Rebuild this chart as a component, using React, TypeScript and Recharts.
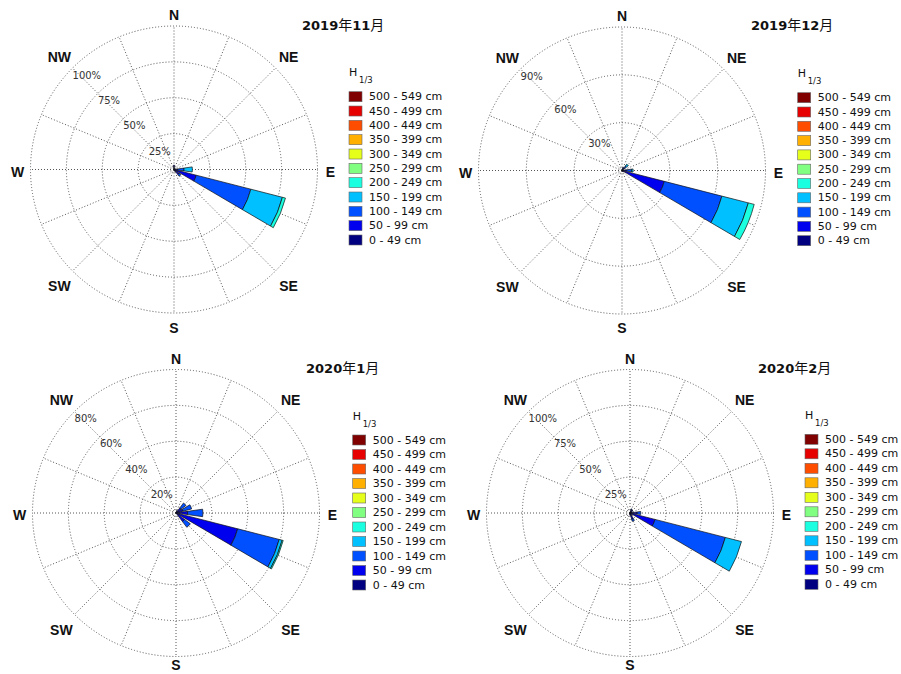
import React from 'react';
import { RadialBarChart, RadialBar, PolarAngleAxis, PolarRadiusAxis, PolarGrid, Cell } from 'recharts';

const DIRECTIONS = ['N', 'NNE', 'NE', 'ENE', 'E', 'ESE', 'SE', 'SSE', 'S', 'SSW', 'SW', 'WSW', 'W', 'WNW', 'NW', 'NNW'];
const COMPASS_SHOWN = ['N', 'NE', 'E', 'SE', 'S', 'SW', 'W', 'NW'];

const BIN_LABELS = [
  '0 - 49 cm', '50 - 99 cm', '100 - 149 cm', '150 - 199 cm', '200 - 249 cm', '250 - 299 cm',
  '300 - 349 cm', '350 - 399 cm', '400 - 449 cm', '450 - 499 cm', '500 - 549 cm',
];
const BIN_COLORS = [
  '#000080', '#0000ee', '#0050ff', '#00c0ff', '#1affe0', '#80ff80',
  '#e6ff1a', '#ffb000', '#ff4d00', '#e60000', '#800000',
];
const BIN_KEYS = BIN_LABELS.map((_, i) => `b${i}`);

// frequency (%) per direction, bins from 0-49 cm upward; missing bins are 0
const NOV_2019 = [
  [1.5, 1.5], [0.5], [0.3], [0.5, 0.5], [0.5, 2, 4.5, 5.8], [1, 15, 39.3, 22.7, 2.2],
  [2, 2.5, 1.5], [0.8, 0.5], [0.3], [], [], [], [], [], [], [],
];
const DEC_2019 = [
  [0.3], [0.5, 1, 0.5], [0.5, 1.5, 1.5, 1.5], [0.3, 0.5], [0.5, 2.5, 3, 1], [1, 26.4, 37.3, 17.1, 3.8],
  [0.5, 0.5], [0.3], [], [], [], [], [], [], [], [],
];
const JAN_2020 = [
  [0.3], [0.5, 1], [0.5, 3, 3.5], [0.5, 3.5, 5], [0.5, 6, 8.5], [1, 34.5, 23.9, 1.7, 0.6],
  [0.5, 5.5, 4], [0.5], [], [], [], [], [], [], [], [],
];
const FEB_2020 = [
  [0.5], [1, 1.5, 0.5], [1, 1.5], [0.5, 1], [1.5, 3.5, 2.5], [1, 17, 50.6, 11.6],
  [0.5, 1], [1.5, 3, 1.5], [0.5, 1], [0.3], [], [], [], [], [], [],
];

const RINGS_NOV_2019 = [25, 50, 75, 100];
const RINGS_DEC_2019 = [30, 60, 90];
const RINGS_JAN_2020 = [20, 40, 60, 80];
const RINGS_FEB_2020 = [25, 50, 75, 100];

const TITLES = ['2019年11月', '2019年12月', '2020年1月', '2020年2月'];

const OUTER_R = 143.5;
const SECTOR = 360 / DIRECTIONS.length;
// recharts puts each centric bar after its tick, so the chart is turned back half a sector
const START_ANGLE = 90 - SECTOR / 2;
const SPOKES = DIRECTIONS.map((_, i) => 90 - i * SECTOR);
const CJK = '"Noto Sans CJK SC", sans-serif';

function toRows(table: number[][]) {
  return DIRECTIONS.map((dir, i) => {
    const row: Record<string, any> = { dir };
    BIN_KEYS.forEach((k, j) => {
      row[k] = table[i][j] ?? 0;
    });
    return row;
  });
}

function Title({ x, y, text }: { x: number; y: number; text: string }) {
  const parts = text.match(/[0-9]+|[^0-9]+/g) || [];
  return (
    <text x={x} y={y} fontSize={13} fontFamily="DejaVu Sans" fontWeight="bold" fill="#111">
      {parts.map((p, i) =>
        /[0-9]/.test(p) ? (
          <tspan key={i}>{p}</tspan>
        ) : (
          <tspan key={i} fontFamily={CJK} fontWeight="normal" fontSize={14}>{p}</tspan>
        )
      )}
    </text>
  );
}

function Legend({ x, hBase, rowY, step }: { x: number; hBase: number; rowY: number; step: number }) {
  const order = BIN_LABELS.map((_, i) => i).reverse();
  return (
    <g fontFamily="DejaVu Sans" fill="#111">
      <text x={x} y={hBase} fontSize={11}>H</text>
      <text x={x + 10} y={hBase + 7} fontSize={8.5}>1/3</text>
      {order.map((bin, r) => (
        <g key={bin}>
          <rect x={x} y={rowY + r * step - 5} width={13} height={10} fill={BIN_COLORS[bin]} stroke="#666" strokeWidth={0.6} />
          <text x={x + 20} y={rowY + r * step} fontSize={11} dominantBaseline="central">{BIN_LABELS[bin]}</text>
        </g>
      ))}
    </g>
  );
}

interface PanelProps {
  left: number;
  top: number;
  title: string;
  table: number[][];
  rings: number[];
  cx: number;
  cy: number;
  titleX: number;
  titleY: number;
  legendX: number;
  legendH: number;
  legendRow: number;
  legendStep: number;
}

function RosePanel(p: PanelProps) {
  const data = toRows(p.table);
  const max = p.rings[p.rings.length - 1];

  const CompassTick = (props: any) => {
    const label = props.payload.value;
    if (!COMPASS_SHOWN.includes(label)) return <g />;
    const theta = ((90 - DIRECTIONS.indexOf(label) * SECTOR) * Math.PI) / 180;
    const ux = Math.cos(theta);
    const uy = -Math.sin(theta);
    const dist = OUTER_R + 8 + Math.abs(ux) * label.length * 5 + Math.abs(uy) * 5;
    const y = Math.min(p.cy + uy * dist + 2, 328);
    return (
      <text
        x={p.cx + ux * dist}
        y={y}
        textAnchor="middle"
        dominantBaseline="central"
        fontFamily="Liberation Sans"
        fontWeight="bold"
        fontSize={14}
        fill="#111"
      >
        {label}
      </text>
    );
  };

  const RingTick = (props: any) => {
    const { x, y, payload } = props;
    return (
      <text x={x} y={y + 7} textAnchor="start" dominantBaseline="central" fontFamily="DejaVu Sans" fontSize={10} fill="#333">
        {`${payload.value}%`}
      </text>
    );
  };

  return (
    <div style={{ position: 'absolute', left: p.left, top: p.top, width: 450, height: 337 }}>
      <RadialBarChart
        width={450}
        height={337}
        data={data}
        layout="centric"
        cx={p.cx}
        cy={p.cy}
        innerRadius={0}
        outerRadius={OUTER_R}
        startAngle={START_ANGLE}
        endAngle={START_ANGLE - 360}
        barCategoryGap="15%"
        margin={{ top: 0, right: 0, bottom: 0, left: 0 }}
      >
        <PolarGrid gridType="circle" stroke="#555" strokeDasharray="1 2" polarAngles={SPOKES} />
        <PolarAngleAxis dataKey="dir" type="category" tick={CompassTick} tickLine={false} axisLine={false} />
        <PolarRadiusAxis
          type="number"
          domain={[0, max]}
          ticks={p.rings}
          angle={135}
          axisLine={false}
          tickLine={false}
          tick={RingTick}
        />
        {BIN_KEYS.map((k, i) => (
          <RadialBar
            key={k}
            dataKey={k}
            stackId="h"
            fill={BIN_COLORS[i]}
            stroke="#111"
            strokeWidth={0.7}
            isAnimationActive={false}
          >
            {data.map((row) => (
              <Cell key={row.dir} stroke={row[k] > 0 ? '#111' : 'none'} />
            ))}
          </RadialBar>
        ))}
      </RadialBarChart>
      <svg width={450} height={337} style={{ position: 'absolute', left: 0, top: 0, pointerEvents: 'none' }}>
        <Title x={p.titleX} y={p.titleY} text={p.title} />
        <Legend x={p.legendX} hBase={p.legendH} rowY={p.legendRow} step={p.legendStep} />
      </svg>
    </div>
  );
}

export default function App() {
  return (
    <div style={{ position: 'absolute', left: 0, top: 0, width: 901, height: 674, background: '#fff' }}>
      <RosePanel left={0} top={0} title={TITLES[0]} table={NOV_2019} rings={RINGS_NOV_2019}
        cx={174} cy={169.5} titleX={302} titleY={30} legendX={349} legendH={76} legendRow={96.7} legendStep={14.33} />
      <RosePanel left={450} top={0} title={TITLES[1]} table={DEC_2019} rings={RINGS_DEC_2019}
        cx={172} cy={170.5} titleX={301} titleY={30} legendX={347.7} legendH={77} legendRow={97.7} legendStep={14.3} />
      <RosePanel left={0} top={337} title={TITLES[2]} table={JAN_2020} rings={RINGS_JAN_2020}
        cx={176} cy={176} titleX={306} titleY={36} legendX={352.7} legendH={83} legendRow={103} legendStep={14.5} />
      <RosePanel left={450} top={337} title={TITLES[3]} table={FEB_2020} rings={RINGS_FEB_2020}
        cx={180} cy={176} titleX={308} titleY={35.7} legendX={355} legendH={82.3} legendRow={102.3} legendStep={14.5} />
    </div>
  );
}
